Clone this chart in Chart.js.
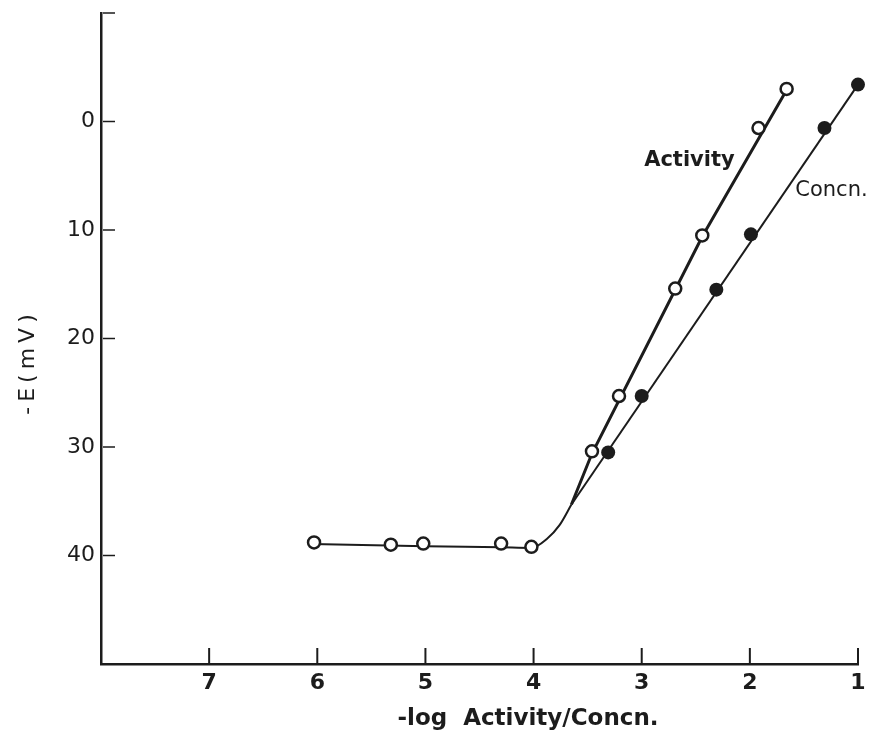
<!DOCTYPE html>
<html>
<head>
<meta charset="utf-8">
<script src="https://cdn.jsdelivr.net/npm/chart.js@4.4.1/dist/chart.umd.min.js"></script>
<style>
  html, body { margin: 0; padding: 0; background: #fff; }
  #plot { display: block; }
</style>
</head>
<body>
<canvas id="plot" width="875" height="734"></canvas>
<script>
// measured points: x = -log activity (or concn.), y = -E in mV
const activityX = [6.03, 5.32, 5.02, 4.30, 4.02, 3.46, 3.21, 2.69, 2.44, 1.92, 1.66];
const activityE = [38.8, 39.0, 38.9, 38.9, 39.2, 30.4, 25.3, 15.4, 10.5, 0.6, -3.0];
const concnX = [3.31, 3.00, 2.31, 1.99, 1.31, 1.00];
const concnE = [30.5, 25.3, 15.5, 10.4, 0.6, -3.4];

// hand drawn fits: common low-end plateau, then one line per series
const plateauX = [6.05, 5.0, 4.3, 4.02, 3.88, 3.76, 3.65];
const plateauE = [38.95, 39.15, 39.25, 39.3, 38.5, 37.2, 35.3];
const activityFitX = [3.65, 3.46, 2.44, 1.66];
const activityFitE = [35.3, 30.6, 10.6, -2.9];
const concnFitX = [3.65, 1.0];
const concnFitE = [35.3, -3.4];

// axes
const xTicks = [7, 6, 5, 4, 3, 2, 1];
const yTicks = [0, 10, 20, 30, 40];
const yTickMarks = [-10, 0, 10, 20, 30, 40];

const ink = '#1c1c1c';

function pts(xs, ys) {
    return xs.map((x, i) => ({ x: x, y: ys[i] }));
}

// tick marks point inwards, plus axis titles and curve labels
const extras = {
    id: 'extras',
    afterDraw(chart) {
        const ctx = chart.ctx;
        const xs = chart.scales.x;
        const ys = chart.scales.y;
        const area = chart.chartArea;
        ctx.save();
        ctx.strokeStyle = ink;
        ctx.fillStyle = ink;

        ctx.lineWidth = 2;
        xTicks.forEach(v => {
            const px = xs.getPixelForValue(v);
            ctx.beginPath();
            ctx.moveTo(px, area.bottom);
            ctx.lineTo(px, area.bottom - 16);
            ctx.stroke();
        });
        ctx.lineWidth = 1.5;
        yTickMarks.forEach(v => {
            const py = ys.getPixelForValue(v);
            ctx.beginPath();
            ctx.moveTo(area.left + 2, py);
            ctx.lineTo(area.left + 14, py);
            ctx.stroke();
        });

        // x title
        ctx.font = 'bold 23px "DejaVu Sans"';
        ctx.textAlign = 'center';
        ctx.textBaseline = 'alphabetic';
        ctx.fillText('-log  Activity/Concn.', 528, 725);

        // y title, reading upwards
        ctx.save();
        ctx.translate(34, 362);
        ctx.rotate(-Math.PI / 2);
        ctx.font = '22px "DejaVu Sans"';
        ctx.letterSpacing = '5px';
        ctx.fillText('-E(mV)', 0, 0);
        ctx.restore();

        // curve labels
        ctx.font = 'bold 21px "DejaVu Sans"';
        ctx.textAlign = 'right';
        ctx.fillText('Activity', xs.getPixelForValue(2.14), ys.getPixelForValue(4.1));
        ctx.font = '21px "DejaVu Sans"';
        ctx.textAlign = 'left';
        ctx.fillText('Concn.', xs.getPixelForValue(1.58), ys.getPixelForValue(6.9));
        ctx.restore();
    }
};

new Chart(document.getElementById('plot'), {
    type: 'scatter',
    data: {
        datasets: [
            {
                label: 'Activity',
                data: pts(activityX, activityE),
                showLine: false,
                pointRadius: 6,
                pointBorderWidth: 2.5,
                pointBackgroundColor: '#fff',
                pointBorderColor: ink,
                clip: false,
                order: 0
            },
            {
                label: 'Concn.',
                data: pts(concnX, concnE),
                showLine: false,
                pointRadius: 7,
                pointBorderWidth: 0,
                pointBackgroundColor: ink,
                pointBorderColor: ink,
                clip: false,
                order: 0
            },
            {
                label: 'plateau',
                data: pts(plateauX, plateauE),
                showLine: true,
                pointRadius: 0,
                borderColor: ink,
                borderWidth: 2,
                cubicInterpolationMode: 'monotone',
                order: 1
            },
            {
                label: 'activity fit',
                data: pts(activityFitX, activityFitE),
                showLine: true,
                pointRadius: 0,
                borderColor: ink,
                borderWidth: 3,
                order: 1
            },
            {
                label: 'concn fit',
                data: pts(concnFitX, concnFitE),
                showLine: true,
                pointRadius: 0,
                borderColor: ink,
                borderWidth: 2,
                clip: false,
                order: 1
            }
        ]
    },
    options: {
        responsive: false,
        animation: false,
        layout: { padding: { left: 0, top: 13, right: 17, bottom: 0 } },
        plugins: {
            legend: { display: false },
            tooltip: { enabled: false }
        },
        scales: {
            x: {
                type: 'linear',
                min: 1,
                max: 8,
                reverse: true,
                grid: { display: false, drawTicks: false },
                border: { display: true, color: ink, width: 2.5 },
                ticks: {
                    color: ink,
                    padding: 6,
                    font: { family: 'DejaVu Sans', size: 22, weight: 'bold' }
                },
                afterBuildTicks: s => { s.ticks = xTicks.map(v => ({ value: v })); },
                afterFit: s => {
                    s.height = 70;
                    s.paddingLeft = 0;
                    s.paddingRight = 0;
                }
            },
            y: {
                type: 'linear',
                min: -10,
                max: 50,
                reverse: true,
                grid: { display: false, drawTicks: false },
                border: { display: true, color: ink, width: 2.5 },
                ticks: {
                    color: ink,
                    padding: 6,
                    font: { family: 'DejaVu Sans', size: 22 }
                },
                afterBuildTicks: s => { s.ticks = yTicks.map(v => ({ value: v })); },
                afterFit: s => {
                    s.width = 101;
                    s.paddingTop = 0;
                    s.paddingBottom = 0;
                }
            }
        }
    },
    plugins: [extras]
});
</script>
</body>
</html>
